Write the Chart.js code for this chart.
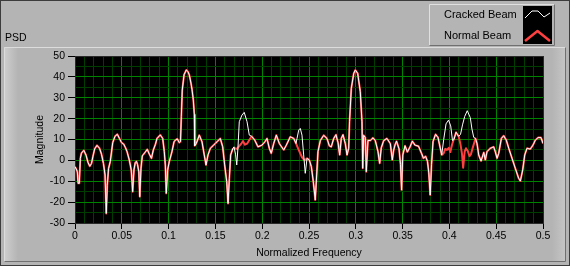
<!DOCTYPE html>
<html lang="en">
<head>
<meta charset="UTF-8">
<title>PSD</title>
<script src="https://cdn.jsdelivr.net/npm/chart.js@4.4.1/dist/chart.umd.min.js"></script>
<style>
    html, body { margin: 0; padding: 0; background: #b4b4b4; }
</style>
</head>
<body>
<canvas id="chart" width="570" height="266"></canvas>
<script>
// [normalized frequency, magnitude]
const normalBeam = [
    [0.0000,-3.0],[0.0018,-4.6],[0.0025,-5.5],[0.0034,-11],[0.0046,-11],[0.0057,1.0],[0.0069,3.5],[0.0094,4.8],[0.0118,2.5],[0.0139,-1],
    [0.0158,-2.8],[0.0176,-1.5],[0.0192,2],[0.0210,5.5],[0.0235,7.2],[0.0262,5.8],[0.0283,3],[0.0304,-1.5],[0.0321,-7],[0.0334,-25.4],
    [0.0345,-12],[0.0358,-4],[0.0377,-0.5],[0.0390,4],[0.0403,8.5],[0.0427,11.5],[0.0452,12.5],[0.0475,10.5],[0.0497,8.5],[0.0520,7.8],
    [0.0540,6],[0.0556,4.2],[0.0580,0.2],[0.0601,-4.6],[0.0616,-15],[0.0630,-4.5],[0.0644,-1],[0.0657,-0.5],[0.0668,-2],[0.0682,-5.5],
    [0.0692,-17.4],[0.0705,-3.8],[0.0719,2.2],[0.0751,4],[0.0772,5.3],[0.0794,3],[0.0817,1],[0.0837,5],[0.0858,7.5],[0.0876,10.5],
    [0.0911,12.2],[0.0937,10.5],[0.0954,4.2],[0.0965,-2.2],[0.0975,-15.8],[0.0990,-4.6],[0.1007,-0.6],[0.1036,4.2],[0.1058,8.9],[0.1072,9.7],
    [0.1093,10.3],[0.1114,8.5],[0.1127,9],[0.1136,21],[0.1146,33.7],[0.1165,41],[0.1189,43.3],[0.1207,42.5],[0.1221,41],[0.1239,37],
    [0.1250,34],[0.1264,29],[0.1275,22],[0.1279,7],[0.1296,8.1],[0.1328,12.1],[0.1357,8.9],[0.1381,2.6],[0.1400,-2.2],[0.1421,2.6],
    [0.1446,5.8],[0.1499,8.1],[0.1552,10.5],[0.1578,6.5],[0.1599,-2.2],[0.1621,-10.2],[0.1635,-20.6],[0.1649,-8.6],[0.1663,2.6],[0.1685,5.5],
    [0.1706,5.8],[0.1731,5.5],[0.1763,7.3],[0.1779,8.2],[0.1795,9.2],[0.1816,7.5],[0.1838,8],[0.1859,9.5],[0.1888,11.5],[0.1920,9.7],
    [0.1955,6.5],[0.1998,7.3],[0.2030,9],[0.2051,10.5],[0.2076,5.8],[0.2097,3.4],[0.2123,8.1],[0.2151,12.1],[0.2183,8.1],[0.2230,5.0],
    [0.2258,7.3],[0.2300,11.3],[0.2337,10.5],[0.2361,8.1],[0.2390,5],[0.2425,1.5],[0.2454,0],[0.2479,1],[0.2503,0.2],[0.2525,-3],
    [0.2546,-10.2],[0.2567,-19],[0.2582,-7],[0.2596,4.2],[0.2621,9.5],[0.2657,12],[0.2692,10.5],[0.2717,7],[0.2738,6.5],[0.2764,10.5],
    [0.2788,12.3],[0.2810,8.5],[0.2828,2.6],[0.2845,10.5],[0.2863,12.3],[0.2888,8],[0.2906,2.6],[0.2924,5.8],[0.2933,18.5],[0.2952,34.5],
    [0.2978,41.7],[0.2995,43.3],[0.3020,41.7],[0.3048,32.9],[0.3066,18.5],[0.3074,-3.8],[0.3084,12],[0.3102,11],[0.3112,-5.4],[0.3130,9.5],
    [0.3155,9.5],[0.3184,10.8],[0.3208,9.5],[0.3237,4.2],[0.3255,-1.4],[0.3272,6],[0.3298,9.5],[0.3333,10.5],[0.3369,8],[0.3390,0.2],
    [0.3405,5],[0.3419,7.4],[0.3435,9.2],[0.3462,5.5],[0.3478,-2],[0.3489,-14.2],[0.3502,2.6],[0.3526,7],[0.3551,4],[0.3580,6.5],
    [0.3604,9.2],[0.3632,7.3],[0.3670,6.8],[0.3702,3.4],[0.3723,1],[0.3745,2],[0.3766,-0.5],[0.3780,-6],[0.3795,-16.6],[0.3809,-2],
    [0.3825,9],[0.3852,12.5],[0.3878,11],[0.3900,6.4],[0.3918,2.6],[0.3939,3.4],[0.3956,5.5],[0.3974,5],[0.3993,6],[0.4010,4],
    [0.4028,7.5],[0.4046,10],[0.4071,13.5],[0.4099,11.5],[0.4117,8],[0.4135,3],[0.4147,-3.5],[0.4163,4.2],[0.4177,5.8],[0.4196,4.5],
    [0.4215,2],[0.4231,3],[0.4249,6],[0.4279,10.5],[0.4295,8.1],[0.4313,2.6],[0.4338,-0.3],[0.4367,3.8],[0.4384,0.2],[0.4402,4.2],
    [0.4437,5.8],[0.4473,6.5],[0.4490,4.2],[0.4509,1],[0.4527,3.4],[0.4555,10.5],[0.4580,11.8],[0.4608,9.7],[0.4634,5.8],[0.4669,1],
    [0.4704,-3.8],[0.4740,-8.6],[0.4758,-9.9],[0.4783,-4.6],[0.4805,2.6],[0.4829,5.8],[0.4864,5.4],[0.4893,7.3],[0.4918,9.7],[0.4947,10.9],
    [0.4979,10.9],[0.5000,8.1]
];

// the cracked beam follows the normal one except for these stretches
const crackedNear018 = [
    [0.1685,5.5],[0.1699,6.5],[0.1715,3],[0.1728,-2.2],[0.1741,6],[0.1755,18.5],[0.1784,21.7],[0.1808,23],[0.1838,18.5],[0.1862,12.1],[0.1888,11.5]
];
const crackedNear024 = [
    [0.2361,8.1],[0.2372,10.5],[0.2390,14.5],[0.2407,15.3],[0.2425,12.1],[0.2443,2.6],[0.2460,-6.2],[0.2479,1]
];
const crackedNear041 = [
    [0.3918,2.6],[0.3939,10],[0.3964,17.5],[0.3991,19.3],[0.4014,16.5],[0.4033,9.5],[0.4049,10],[0.4071,13.5],[0.4099,11.5],
    [0.4119,12.5],[0.4140,17],[0.4163,21],[0.4191,23.8],[0.4223,20.5],[0.4241,15],[0.4260,11],[0.4279,10.5]
];

const seriesNames = ['Cracked Beam', 'Normal Beam'];
const chartTitle = 'PSD';
const xTitle = 'Normalized Frequency';
const yTitle = 'Magnitude';

const FONT = '"Liberation Sans", Arial, sans-serif';
const RED = 'rgb(255,64,64)';
const MAJOR = 'rgb(0,132,0)';
const MINOR = 'rgb(0,62,0)';

function toPoints(arr) {
    return arr.map(p => ({ x: p[0], y: p[1] }));
}

function crackedBeam() {
    const bumps = [crackedNear018, crackedNear024, crackedNear041];
    let pts = normalBeam.filter(p => !bumps.some(b => p[0] >= b[0][0] && p[0] <= b[b.length - 1][0]));
    bumps.forEach(b => { pts = pts.concat(b); });
    pts.sort((a, b) => a[0] - b[0]);
    return toPoints(pts);
}

function isMultiple(v, step) {
    const r = v / step;
    return Math.abs(r - Math.round(r)) < 1e-6;
}

// LabVIEW-ish panel, plot background, caption and legend
const panelPlugin = {
    id: 'panel',
    beforeDraw(chart) {
        const c = chart.ctx;
        const a = chart.chartArea;
        c.save();
        c.fillStyle = '#b4b4b4';
        c.fillRect(0, 0, chart.width, chart.height);

        // inner graph frame
        let g = c.createLinearGradient(4, 0, 18, 0);
        g.addColorStop(0, '#cfcfcf');
        g.addColorStop(1, '#b4b4b4');
        c.fillStyle = g;
        c.fillRect(4, 47, 14, 215);
        g = c.createLinearGradient(552, 0, 566, 0);
        g.addColorStop(0, '#b4b4b4');
        g.addColorStop(1, '#c6c6c6');
        c.fillStyle = g;
        c.fillRect(552, 47, 14, 215);
        c.lineWidth = 1;
        c.strokeStyle = '#dcdcdc';
        c.beginPath();
        c.moveTo(4.5, 261.5); c.lineTo(4.5, 47.5); c.lineTo(565.5, 47.5);
        c.stroke();
        c.strokeStyle = '#707070';
        c.beginPath();
        c.moveTo(565.5, 47.5); c.lineTo(565.5, 261.5); c.lineTo(4.5, 261.5);
        c.stroke();

        // window edge
        c.strokeStyle = '#3c3c3c';
        c.strokeRect(0.5, 0.5, chart.width - 1, chart.height - 1);

        // plot background
        c.fillStyle = '#000';
        c.fillRect(a.left, a.top, a.right - a.left, a.bottom - a.top);
        c.restore();
    },
    afterDraw(chart) {
        const c = chart.ctx;
        c.save();
        c.font = '10.5px ' + FONT;
        c.fillStyle = '#000';
        c.textBaseline = 'middle';
        c.fillText(chartTitle, 5, 38);

        // legend box
        c.fillStyle = '#b4b4b4';
        c.fillRect(429, 4, 126, 42);
        c.strokeStyle = '#e0e0e0';
        c.beginPath();
        c.moveTo(429.5, 45.5); c.lineTo(429.5, 4.5); c.lineTo(554.5, 4.5);
        c.stroke();
        c.strokeStyle = '#707070';
        c.beginPath();
        c.moveTo(554.5, 4.5); c.lineTo(554.5, 45.5); c.lineTo(429.5, 45.5);
        c.stroke();

        c.fillStyle = '#000';
        c.font = '11px ' + FONT;
        c.fillText(seriesNames[0], 444, 15);
        c.fillText(seriesNames[1], 444, 36);

        c.fillStyle = '#000';
        c.fillRect(523, 6, 29, 38);
        c.lineJoin = 'round';
        c.strokeStyle = '#fff';
        c.lineWidth = 1;
        c.beginPath();
        c.moveTo(525, 18); c.lineTo(532, 11); c.lineTo(538, 11); c.lineTo(544, 17); c.lineTo(550, 13);
        c.stroke();
        c.strokeStyle = RED;
        c.lineWidth = 2.5;
        c.beginPath();
        c.moveTo(525, 41); c.lineTo(537.5, 31); c.lineTo(550, 41);
        c.stroke();
        c.restore();
    }
};

const ctx = document.getElementById('chart').getContext('2d');
new Chart(ctx, {
    type: 'scatter',
    data: {
        datasets: [
            {
                label: seriesNames[0],
                data: crackedBeam(),
                showLine: true,
                borderColor: '#ffffff',
                borderWidth: 1,
                pointRadius: 0,
                borderJoinStyle: 'round'
            },
            {
                label: seriesNames[1],
                data: toPoints(normalBeam),
                showLine: true,
                borderColor: RED,
                borderWidth: 2,
                pointRadius: 0,
                borderJoinStyle: 'round'
            }
        ]
    },
    options: {
        responsive: false,
        animation: false,
        layout: { padding: { left: 26, right: 27, top: 56, bottom: 7 } },
        plugins: {
            legend: { display: false },
            tooltip: { enabled: false }
        },
        scales: {
            x: {
                type: 'linear',
                min: 0,
                max: 0.5,
                afterFit: s => { s.height = 36; },
                ticks: {
                    stepSize: 0.01,
                    autoSkip: false,
                    maxRotation: 0,
                    padding: 1,
                    color: '#000',
                    font: { family: FONT, size: 10.5 },
                    callback: v => isMultiple(v, 0.05) ? String(Number(v.toFixed(2))) : ''
                },
                grid: {
                    tickLength: 6,
                    color: c => {
                        const v = c.tick.value;
                        if (Math.abs(v - 0.5) < 1e-6) return '#2a2a2a';
                        return isMultiple(v, 0.05) ? MAJOR : MINOR;
                    },
                    tickColor: c => isMultiple(c.tick.value, 0.05) ? '#000' : 'rgba(0,0,0,0)'
                },
                border: { color: '#2a2a2a' },
                title: {
                    display: true,
                    text: xTitle,
                    color: '#000',
                    font: { family: FONT, size: 10.5 },
                    padding: { top: 0, bottom: 0 }
                }
            },
            y: {
                min: -30,
                max: 50,
                afterFit: s => { s.width = 49; },
                ticks: {
                    stepSize: 5,
                    autoSkip: false,
                    padding: 3,
                    color: '#000',
                    font: { family: FONT, size: 10.5 },
                    callback: v => isMultiple(v, 10) ? String(v) : ''
                },
                grid: {
                    tickLength: 7,
                    color: c => {
                        const v = c.tick.value;
                        if (v === 50) return '#2a2a2a';
                        return isMultiple(v, 10) ? MAJOR : MINOR;
                    },
                    tickColor: c => isMultiple(c.tick.value, 10) ? '#000' : 'rgba(0,0,0,0)'
                },
                border: { color: '#2a2a2a' },
                title: {
                    display: true,
                    text: yTitle,
                    color: '#000',
                    font: { family: FONT, size: 10.5 },
                    padding: { top: 8, bottom: 0 }
                }
            }
        }
    },
    plugins: [panelPlugin]
});
</script>
</body>
</html>
